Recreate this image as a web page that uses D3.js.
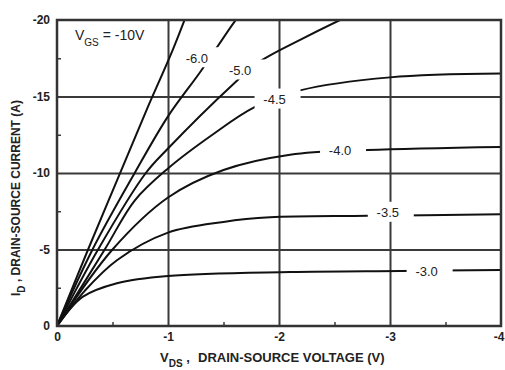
<!DOCTYPE html>
<html>
<head>
<meta charset="utf-8">
<script src="https://cdn.jsdelivr.net/npm/d3@7"></script>
<style>
  body { margin: 0; background: #fff; }
  svg { display: block; font-family: "Liberation Sans", Arial, sans-serif; }
</style>
</head>
<body>
<div id="chart_div"></div>
<script>
// drain current curves, [V_DS, I_D] per gate voltage
const curve10 = [[0, 0], [-0.28, -5], [-0.54, -9.5], [-0.80, -14], [-1.04, -18], [-1.17, -20.4]];
const curve60 = [[0, 0], [-0.32, -5], [-0.70, -10], [-1.0, -13.7], [-1.3, -16.7], [-1.6, -19.9], [-1.7, -20.8]];
const curve50 = [[0, 0], [-0.37, -5], [-0.80, -10], [-1.0, -11.6], [-1.58, -15.75], [-1.81, -17.2], [-2.19, -18.7], [-2.55, -20], [-2.7, -20.5]];
const curve45 = [[0, 0], [-0.43, -5], [-0.7, -8.2], [-1.0, -10.3], [-1.4, -12.5], [-1.78, -14.3], [-2.19, -15.4], [-3.0, -16.25], [-4.0, -16.5]];
const curve40 = [[0, 0], [-0.5, -5], [-1.0, -8.4], [-1.5, -10.2], [-2.1, -11.2], [-2.8, -11.5], [-4.0, -11.7]];
const curve35 = [[0, 0], [-0.25, -2.3], [-0.54, -4.3], [-1.0, -6.1], [-1.5, -6.8], [-1.92, -7.1], [-2.8, -7.2], [-4.0, -7.3]];
const curve30 = [[0, 0], [-0.23, -1.9], [-0.54, -2.8], [-1.0, -3.27], [-2.1, -3.53], [-3.1, -3.6], [-4.0, -3.66]];

const gateLabels = ["-6.0", "-5.0", "-4.5", "-4.0", "-3.5", "-3.0"];
const gateLabelAt = [[-1.26, -17.5], [-1.65, -16.7], [-1.96, -14.8], [-2.55, -11.5], [-2.98, -7.4], [-3.33, -3.6]];

const xTicks = [0, -1, -2, -3, -4];
const yTicks = [0, -5, -10, -15, -20];
const xMinor = [-0.5, -1.5, -2.5, -3.5];
const yMinor = [-2.5, -7.5, -12.5, -17.5];

// set the dimensions and margins of the graph
const margin = { top: 20, right: 4, bottom: 44, left: 57 },
  width = 505 - margin.left - margin.right,
  height = 370 - margin.top - margin.bottom;

const svgRoot = d3.select("#chart_div")
  .append("svg")
  .attr("width", 505)
  .attr("height", 370);

const svg = svgRoot.append("g")
  .attr("transform", `translate(${margin.left},${margin.top})`);

const x = d3.scaleLinear().domain([0, -4]).range([0, width]);
const y = d3.scaleLinear().domain([0, -20]).range([height, 0]);

const gridColor = "#3a3a3a";

// grid lines
svg.append("g")
  .attr("transform", `translate(0,${height})`)
  .call(d3.axisBottom(x).tickValues([-1, -2, -3]).tickSize(-height).tickFormat(""))
  .call(g => g.select(".domain").remove())
  .selectAll("line").attr("stroke", gridColor).attr("stroke-width", 2);

svg.append("g")
  .call(d3.axisLeft(y).tickValues([-5, -10, -15]).tickSize(-width).tickFormat(""))
  .call(g => g.select(".domain").remove())
  .selectAll("line").attr("stroke", gridColor).attr("stroke-width", 2);

// minor ticks
svg.append("g")
  .attr("transform", `translate(0,${height})`)
  .call(d3.axisBottom(x).tickValues(xMinor).tickSize(-4).tickFormat(""))
  .call(g => g.select(".domain").remove())
  .selectAll("line").attr("stroke", gridColor).attr("stroke-width", 1.5);

svg.append("g")
  .call(d3.axisLeft(y).tickValues(yMinor).tickSize(-4).tickFormat(""))
  .call(g => g.select(".domain").remove())
  .selectAll("line").attr("stroke", gridColor).attr("stroke-width", 1.5);

// tick labels
const xAxis = svg.append("g")
  .attr("transform", `translate(0,${height})`)
  .call(d3.axisBottom(x).tickValues(xTicks).tickSize(0).tickPadding(6).tickFormat(d => String(d)));
xAxis.select(".domain").remove();
// last label sits on the page edge, pull it in so it stays whole
xAxis.selectAll(".tick text")
  .filter(d => d === -4)
  .attr("text-anchor", "end")
  .attr("x", 3);

const yAxis = svg.append("g")
  .call(d3.axisLeft(y).tickValues(yTicks).tickSize(0).tickPadding(7).tickFormat(d => String(d)));
yAxis.select(".domain").remove();

svg.selectAll(".tick text")
  .attr("font-family", "'Liberation Sans', Arial, sans-serif")
  .attr("font-size", 12)
  .attr("font-weight", "bold")
  .attr("fill", "#222");

// clip for curves
svg.append("clipPath").attr("id", "plot-clip")
  .append("rect").attr("width", width).attr("height", height);

const line = d3.line()
  .x(d => x(d[0]))
  .y(d => y(d[1]))
  .curve(d3.curveCatmullRom.alpha(0.5));

svg.append("g")
  .attr("clip-path", "url(#plot-clip)")
  .selectAll("path")
  .data([curve10, curve60, curve50, curve45, curve40, curve35, curve30])
  .join("path")
  .attr("fill", "none")
  .attr("stroke", "#111")
  .attr("stroke-width", 2)
  .attr("d", line);

// curve labels with a white box that breaks the lines
const labels = svg.selectAll(".gate-label")
  .data(gateLabels)
  .join("g")
  .attr("class", "gate-label")
  .attr("transform", (d, i) => `translate(${x(gateLabelAt[i][0])},${y(gateLabelAt[i][1])})`);

labels.append("rect")
  .attr("x", -20).attr("y", -11)
  .attr("width", 46).attr("height", 20)
  .attr("fill", "#fff");

labels.append("text")
  .attr("text-anchor", "middle")
  .attr("dy", "0.36em")
  .attr("font-size", 13)
  .attr("fill", "#222")
  .text(d => d);

// frame
svg.append("rect")
  .attr("width", width).attr("height", height)
  .attr("fill", "none")
  .attr("stroke", "#333")
  .attr("stroke-width", 2.5);

// V_GS legend text
const vgs = svg.append("text")
  .attr("x", 18).attr("y", 20)
  .attr("font-size", 14)
  .attr("fill", "#222");
vgs.append("tspan").text("V");
vgs.append("tspan").attr("dy", 6).attr("font-size", 10).text("GS");
vgs.append("tspan").attr("dy", -6).text(" = -10V");

// axis titles
const xTitle = svgRoot.append("text")
  .attr("x", 160).attr("y", 362)
  .attr("font-size", 13)
  .attr("font-weight", "bold")
  .attr("fill", "#222");
xTitle.append("tspan").text("V");
xTitle.append("tspan").attr("dy", 5).attr("font-size", 10).text("DS");
xTitle.append("tspan").attr("dy", -5).text(" , ");
xTitle.append("tspan").attr("x", 198).text("DRAIN-SOURCE VOLTAGE (V)");

const yTitle = svgRoot.append("text")
  .attr("transform", "translate(20,296) rotate(-90)")
  .attr("font-size", 12)
  .attr("font-weight", "bold")
  .attr("fill", "#222");
yTitle.append("tspan").text("I");
yTitle.append("tspan").attr("dy", 5).attr("font-size", 10).text("D");
yTitle.append("tspan").attr("dy", -5).text(" , DRAIN-SOURCE CURRENT (A)");
</script>
</body>
</html>
